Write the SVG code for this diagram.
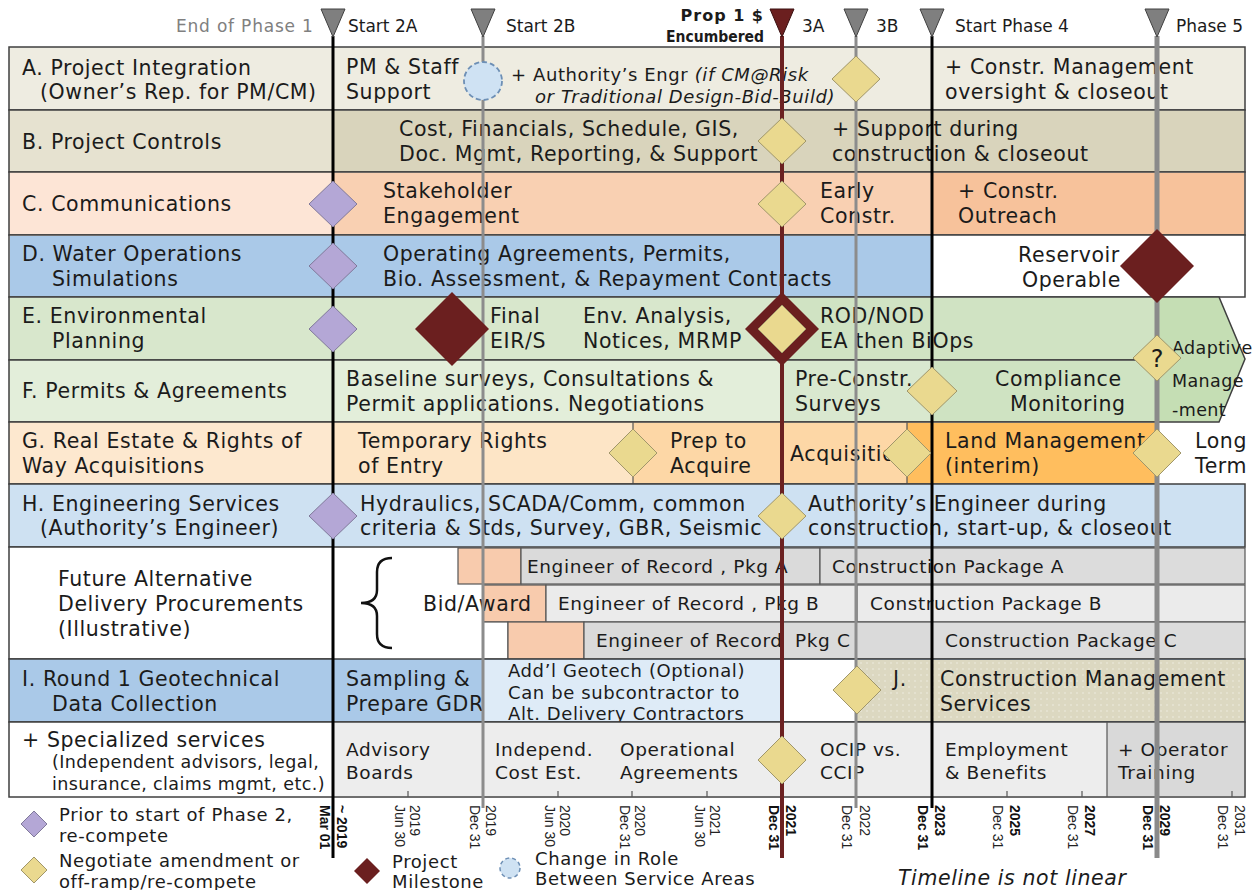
<svg xmlns="http://www.w3.org/2000/svg" width="1253" height="890" viewBox="0 0 1253 890">
<style>
text{font-family:"DejaVu Sans",Verdana,sans-serif;fill:#1b1b1b}
.t{font-size:20.5px;letter-spacing:0.6px}
.s{font-size:18.5px;letter-spacing:0.6px}
.xs{font-size:17.5px;letter-spacing:0.4px}
.h{font-size:17px}
.lg{font-size:18px;letter-spacing:0.6px}
.hb{font-size:16px;font-weight:bold}
.it{font-style:italic}
.ax{font-family:"Liberation Sans",Arial,sans-serif;font-size:14px;fill:#222;letter-spacing:0}
.axb{font-family:"Liberation Sans",Arial,sans-serif;font-size:14px;font-weight:bold;fill:#111;letter-spacing:0}
.fr{stroke:#3f3f3f;stroke-width:1.5}
.sep{stroke:#555;stroke-width:1.2}
.box{stroke:#555;stroke-width:1.2}
.pd{fill:#b4a7d6;stroke:#80799a;stroke-width:1}
.yd{fill:#ead98f;stroke:#a0966a;stroke-width:1}
.md{fill:#6b1f1f}
</style>
<defs>
<pattern id="dots" width="6" height="6" patternUnits="userSpaceOnUse">
<rect width="6" height="6" fill="#dcd8c1"/>
<circle cx="3" cy="3" r="0.8" fill="#f0eee2"/>
</pattern>
</defs>

<!-- Rows -->
<g id="rowA">
<rect class="fr" x="9" y="47" width="1236" height="63" fill="#eeece1"/>
<text class="t" x="22" y="75">A. Project Integration</text>
<text class="t" x="40" y="99">(Owner’s Rep. for PM/CM)</text>
<text class="t" x="346" y="74">PM &amp; Staff</text>
<text class="t" x="346" y="99">Support</text>
<text class="lg" x="511" y="81">+ Authority’s Engr <tspan class="it">(if CM@Risk</tspan></text>
<text class="lg it" x="535" y="103">or Traditional Design-Bid-Build)</text>
<text class="t" x="945" y="74">+ Constr. Management</text>
<text class="t" x="945" y="99">oversight &amp; closeout</text>
</g>

<g id="rowB">
<rect class="fr" x="9" y="110" width="1236" height="62" fill="#e6e2d0"/>
<rect x="333" y="111" width="911" height="60" fill="#d9d4bc"/>
<text class="t" x="22" y="149">B. Project Controls</text>
<text class="t" x="399" y="136">Cost, Financials, Schedule, GIS,</text>
<text class="t" x="399" y="161">Doc. Mgmt, Reporting, &amp; Support</text>
<text class="t" x="832" y="136">+ Support during</text>
<text class="t" x="832" y="161">construction &amp; closeout</text>
</g>

<g id="rowC">
<rect class="fr" x="9" y="172" width="1236" height="63" fill="#fde5d6"/>
<rect x="333" y="173" width="599" height="61" fill="#f9d0b2"/>
<rect x="932" y="173" width="312" height="61" fill="#f7c29b"/>
<text class="t" x="22" y="211">C. Communications</text>
<text class="t" x="383" y="198">Stakeholder</text>
<text class="t" x="383" y="223">Engagement</text>
<text class="t" x="820" y="198">Early</text>
<text class="t" x="820" y="223">Constr.</text>
<text class="t" x="958" y="198">+ Constr.</text>
<text class="t" x="958" y="223">Outreach</text>
</g>

<g id="rowD">
<rect class="fr" x="9" y="235" width="1236" height="62" fill="#ffffff"/>
<rect x="10" y="236" width="922" height="60" fill="#aac9e8"/>
<text class="t" x="22" y="261">D. Water Operations</text>
<text class="t" x="52" y="286">Simulations</text>
<text class="t" x="383" y="261">Operating Agreements, Permits,</text>
<text class="t" x="383" y="286">Bio. Assessment, &amp; Repayment Contracts</text>
<text class="t" x="1018" y="262">Reservoir</text>
<text class="t" x="1022" y="287">Operable</text>
</g>

<g id="rowE">
<rect class="fr" x="9" y="297" width="1148" height="63" fill="#d8e7cc"/>
<rect x="782" y="298" width="375" height="61" fill="#d0e3c3"/>
<text class="t" x="22" y="323">E. Environmental</text>
<text class="t" x="52" y="348">Planning</text>
<text class="t" x="490" y="323">Final</text>
<text class="t" x="490" y="348">EIR/S</text>
<text class="t" x="583" y="323">Env. Analysis,</text>
<text class="t" x="583" y="348">Notices, MRMP</text>
<text class="t" x="820" y="323">ROD/NOD</text>
<text class="t" x="820" y="348">EA then BiOps</text>
</g>

<g id="rowF">
<rect class="fr" x="9" y="360" width="1148" height="62" fill="#e3eeda"/>
<rect x="782" y="361" width="150" height="60" fill="#d9e8cf"/>
<rect x="932" y="361" width="225" height="60" fill="#cfe3c2"/>
<text class="t" x="22" y="398">F. Permits &amp; Agreements</text>
<text class="t" x="346" y="386">Baseline surveys, Consultations &amp;</text>
<text class="t" x="346" y="411">Permit applications. Negotiations</text>
<text class="t" x="795" y="386">Pre-Constr.</text>
<text class="t" x="795" y="411">Surveys</text>
<text class="t" x="995" y="386">Compliance</text>
<text class="t" x="1010" y="411">Monitoring</text>
</g>

<g id="adaptive">
<polygon class="fr" points="1157,297 1219,297 1245,359 1219,422 1157,422" fill="#c5deb4"/>
<text class="xs" x="1172" y="354">Adaptive</text>
<text class="xs" x="1172" y="387">Manage</text>
<text class="xs" x="1172" y="416">-ment</text>
</g>

<g id="rowG">
<rect class="fr" x="9" y="422" width="1148" height="62" fill="#fde8cf"/>
<rect x="333" y="423" width="300" height="60" fill="#fde5c6"/>
<rect x="633" y="423" width="274" height="60" fill="#fdd7a6"/>
<rect x="907" y="423" width="250" height="60" fill="#ffbe5e"/>
<line class="sep" x1="633" y1="422" x2="633" y2="484"/>
<line class="sep" x1="907" y1="422" x2="907" y2="484"/>
<text class="t" x="22" y="448">G. Real Estate &amp; Rights of</text>
<text class="t" x="22" y="473">Way Acquisitions</text>
<text class="t" x="358" y="448">Temporary Rights</text>
<text class="t" x="358" y="473">of Entry</text>
<text class="t" x="670" y="448">Prep to</text>
<text class="t" x="670" y="473">Acquire</text>
<text class="t" x="790" y="461">Acquisition</text>
<text class="t" x="945" y="448">Land Management</text>
<text class="t" x="945" y="473">(interim)</text>
<text class="t" x="1195" y="448">Long</text>
<text class="t" x="1195" y="473">Term</text>
</g>

<g id="rowH">
<rect class="fr" x="9" y="484" width="1236" height="63" fill="#cee1f2"/>
<text class="t" x="22" y="511">H. Engineering Services</text>
<text class="t" x="40" y="535">(Authority’s Engineer)</text>
<text class="t" x="360" y="511">Hydraulics, SCADA/Comm, common</text>
<text class="t" x="360" y="535">criteria &amp; Stds, Survey, GBR, Seismic</text>
<text class="t" x="808" y="511">Authority’s Engineer during</text>
<text class="t" x="808" y="535">construction, start-up, &amp; closeout</text>
</g>

<g id="future">
<rect class="fr" x="9" y="547" width="324" height="112" fill="#ffffff"/>
<text class="t" x="58" y="586">Future Alternative</text>
<text class="t" x="58" y="611">Delivery Procurements</text>
<text class="t" x="58" y="636">(Illustrative)</text>
<path d="M392,558 Q377,558 377,572 L377,590 Q377,603 361,603 Q377,603 377,616 L377,634 Q377,648 392,648" fill="none" stroke="#111" stroke-width="2.5"/>
<rect class="box" x="458" y="548" width="63" height="36" fill="#f8cbad"/>
<rect class="box" x="521" y="548" width="299" height="36" fill="#dadada"/>
<rect class="box" x="820" y="548" width="425" height="36" fill="#dcdcdc"/>
<rect class="box" x="483" y="585" width="63" height="37" fill="#f8cbad"/>
<rect class="box" x="546" y="585" width="311" height="37" fill="#ebebeb"/>
<rect class="box" x="857" y="585" width="388" height="37" fill="#ebebeb"/>
<rect class="box" x="483" y="622" width="25" height="37" fill="#ffffff"/>
<rect class="box" x="508" y="622" width="76" height="37" fill="#f8cbad"/>
<rect class="box" x="584" y="622" width="348" height="37" fill="#dadada"/>
<rect class="box" x="932" y="622" width="313" height="37" fill="#dcdcdc"/>
<text class="t" x="423" y="611">Bid/Award</text>
<text class="s" x="527" y="573">Engineer of Record , Pkg A</text>
<text class="s" x="832" y="573">Construction Package A</text>
<text class="s" x="558" y="610">Engineer of Record , Pkg B</text>
<text class="s" x="870" y="610">Construction Package B</text>
<text class="s" x="596" y="647">Engineer of Record</text>
<text class="s" x="795" y="647">Pkg C</text>
<text class="s" x="945" y="647">Construction Package C</text>
</g>

<g id="rowI">
<rect class="fr" x="9" y="659" width="1236" height="63" fill="#aac9e8"/>
<rect x="483" y="660" width="299" height="61" fill="#deebf7"/>
<rect x="782" y="660" width="75" height="61" fill="#ffffff"/>
<rect x="857" y="660" width="387" height="61" fill="url(#dots)"/>
<text class="t" x="22" y="686">I. Round 1 Geotechnical</text>
<text class="t" x="52" y="711">Data Collection</text>
<text class="t" x="346" y="686">Sampling &amp;</text>
<text class="t" x="346" y="711">Prepare GDR</text>
<text class="lg" x="508" y="677">Add’l Geotech (Optional)</text>
<text class="lg" x="508" y="699">Can be subcontractor to</text>
<text class="lg" x="508" y="720">Alt. Delivery Contractors</text>
<text class="t" x="893" y="686">J.</text>
<text class="t" x="940" y="686">Construction Management</text>
<text class="t" x="940" y="711">Services</text>
</g>

<g id="rowS">
<rect class="fr" x="9" y="722" width="1236" height="75" fill="#ffffff"/>
<rect x="333" y="723" width="774" height="73" fill="#ededed"/>
<rect x="1107" y="723" width="137" height="73" fill="#d9d9d9"/>
<line class="sep" x1="1107" y1="722" x2="1107" y2="797"/>
<text class="t" x="22" y="747">+ Specialized services</text>
<text class="xs" x="52" y="768">(Independent advisors, legal,</text>
<text class="xs" x="52" y="790">insurance, claims mgmt, etc.)</text>
<text class="s" x="346" y="756">Advisory</text>
<text class="s" x="346" y="779">Boards</text>
<text class="s" x="495" y="756">Independ.</text>
<text class="s" x="495" y="779">Cost Est.</text>
<text class="s" x="620" y="756">Operational</text>
<text class="s" x="620" y="779">Agreements</text>
<text class="s" x="820" y="756">OCIP vs.</text>
<text class="s" x="820" y="779">CCIP</text>
<text class="s" x="945" y="756">Employment</text>
<text class="s" x="945" y="779">&amp; Benefits</text>
<text class="s" x="1118" y="756">+ Operator</text>
<text class="s" x="1118" y="779">Training</text>
</g>

<!-- Phase lines (connectors) -->
<g id="phase-lines">
<line x1="333" y1="36" x2="333" y2="858" stroke="#000" stroke-width="3"/>
<line x1="483" y1="36" x2="483" y2="808" stroke="#8c8c8c" stroke-width="3"/>
<line x1="782" y1="36" x2="782" y2="858" stroke="#6b2121" stroke-width="4"/>
<line x1="856" y1="36" x2="856" y2="808" stroke="#8c8c8c" stroke-width="3"/>
<line x1="932" y1="36" x2="932" y2="808" stroke="#000" stroke-width="3"/>
<line x1="1157" y1="36" x2="1157" y2="858" stroke="#8a8a8a" stroke-width="5"/>
<g stroke="#555" stroke-width="1.2">
<line x1="408" y1="791" x2="408" y2="797"/>
<line x1="558" y1="791" x2="558" y2="797"/>
<line x1="632" y1="791" x2="632" y2="797"/>
<line x1="707" y1="791" x2="707" y2="797"/>
<line x1="1007" y1="791" x2="1007" y2="797"/>
<line x1="1082" y1="791" x2="1082" y2="797"/>
<line x1="1232" y1="791" x2="1232" y2="797"/>
</g>
</g>

<g id="phase-markers">
<polygon points="321,9 345,9 333,37" fill="#7f7f7f" stroke="#404040" stroke-width="1"/>
<polygon points="471,9 495,9 483,37" fill="#7f7f7f" stroke="#404040" stroke-width="1"/>
<polygon points="770,9 794,9 782,37" fill="#6b1f1f" stroke="#3a1010" stroke-width="1"/>
<polygon points="844,9 868,9 856,37" fill="#7f7f7f" stroke="#404040" stroke-width="1"/>
<polygon points="920,9 944,9 932,37" fill="#7f7f7f" stroke="#404040" stroke-width="1"/>
<polygon points="1145,9 1169,9 1157,37" fill="#7f7f7f" stroke="#404040" stroke-width="1"/>
<text class="h" x="176" y="32" style="fill:#808080;letter-spacing:0.8px">End of Phase 1</text>
<text class="h" x="348" y="32">Start 2A</text>
<text class="h" x="506" y="32">Start 2B</text>
<text class="hb" x="764" y="21" text-anchor="end" style="letter-spacing:1px">Prop 1 $</text>
<text class="hb" x="764" y="42" text-anchor="end" style="font-family:'DejaVu Sans Condensed','DejaVu Sans',sans-serif;font-size:15.5px">Encumbered</text>
<text class="h" x="802" y="32">3A</text>
<text class="h" x="876" y="32">3B</text>
<text class="h" x="955" y="32">Start Phase 4</text>
<text class="h" x="1176" y="32">Phase 5</text>
</g>

<!-- Diamonds -->
<g id="diamonds">
<ellipse cx="483" cy="81" rx="19" ry="19" fill="#cfe2f3" stroke="#6d8fb5" stroke-width="1.8" stroke-dasharray="5,3"/>
<polygon class="pd" points="333,181 357,204 333,227 309,204"/>
<polygon class="pd" points="333,243 357,266 333,289 309,266"/>
<polygon class="pd" points="333,306 357,329 333,352 309,329"/>
<polygon class="pd" points="333,493 357,516 333,539 309,516"/>
<polygon class="yd" points="856,56 880,79 856,102 832,79"/>
<polygon class="yd" points="782,118 806,141 782,164 758,141"/>
<polygon class="yd" points="782,181 806,204 782,227 758,204"/>
<polygon class="yd" points="932,367 957,391 932,415 907,391"/>
<polygon class="yd" points="633,429 657,453 633,477 609,453"/>
<polygon class="yd" points="907,429 931,453 907,477 883,453"/>
<polygon class="yd" points="1157,429 1181,453 1157,477 1133,453"/>
<polygon class="yd" points="782,493 806,516 782,539 758,516"/>
<polygon class="yd" points="857,666 881,690 857,714 833,690"/>
<polygon class="yd" points="782,736 806,760 782,784 758,760"/>
<polygon class="md" points="452,292 489,329 452,366 415,329"/>
<polygon class="md" points="1157,229 1194,266 1157,303 1120,266"/>
<polygon class="md" points="782,292 819,329 782,366 745,329"/>
<polygon class="yd" points="782,305 806,329 782,353 758,329"/>
<polygon class="yd" points="1157,335 1181,358 1157,381 1133,358"/>
<text x="1157" y="367" text-anchor="middle" style="font-size:24px">?</text>
</g>

<g id="axis-labels">
<text class="axb" transform="translate(325,805) rotate(90)" dominant-baseline="central">Mar 01</text>
<text class="axb" transform="translate(342,805) rotate(90)" dominant-baseline="central">~ 2019</text>
<text class="ax" transform="translate(400,805) rotate(90)" dominant-baseline="central">Jun 30</text>
<text class="ax" transform="translate(415,805) rotate(90)" dominant-baseline="central">2019</text>
<text class="ax" transform="translate(475,805) rotate(90)" dominant-baseline="central">Dec 31</text>
<text class="ax" transform="translate(491,805) rotate(90)" dominant-baseline="central">2019</text>
<text class="ax" transform="translate(550,805) rotate(90)" dominant-baseline="central">Jun 30</text>
<text class="ax" transform="translate(565,805) rotate(90)" dominant-baseline="central">2020</text>
<text class="ax" transform="translate(625,805) rotate(90)" dominant-baseline="central">Dec 31</text>
<text class="ax" transform="translate(640,805) rotate(90)" dominant-baseline="central">2020</text>
<text class="ax" transform="translate(700,805) rotate(90)" dominant-baseline="central">Jun 30</text>
<text class="ax" transform="translate(715,805) rotate(90)" dominant-baseline="central">2021</text>
<text class="axb" transform="translate(774,805) rotate(90)" dominant-baseline="central">Dec 31</text>
<text class="axb" transform="translate(791,805) rotate(90)" dominant-baseline="central">2021</text>
<text class="ax" transform="translate(847,805) rotate(90)" dominant-baseline="central">Dec 31</text>
<text class="ax" transform="translate(865,805) rotate(90)" dominant-baseline="central">2022</text>
<text class="axb" transform="translate(923,805) rotate(90)" dominant-baseline="central">Dec 31</text>
<text class="axb" transform="translate(940,805) rotate(90)" dominant-baseline="central">2023</text>
<text class="ax" transform="translate(998,805) rotate(90)" dominant-baseline="central">Dec 31</text>
<text class="axb" transform="translate(1015,805) rotate(90)" dominant-baseline="central">2025</text>
<text class="ax" transform="translate(1073,805) rotate(90)" dominant-baseline="central">Dec 31</text>
<text class="axb" transform="translate(1090,805) rotate(90)" dominant-baseline="central">2027</text>
<text class="axb" transform="translate(1148,805) rotate(90)" dominant-baseline="central">Dec 31</text>
<text class="axb" transform="translate(1165,805) rotate(90)" dominant-baseline="central">2029</text>
<text class="ax" transform="translate(1223,805) rotate(90)" dominant-baseline="central">Dec 31</text>
<text class="ax" transform="translate(1240,805) rotate(90)" dominant-baseline="central">2031</text>
</g>

<g id="legend">
<polygon class="pd" points="34,811 47,824 34,837 21,824"/>
<text class="lg" x="59" y="821">Prior to start of Phase 2,</text>
<text class="lg" x="59" y="842">re-compete</text>
<polygon class="yd" points="34,857 47,870 34,883 21,870"/>
<text class="lg" x="59" y="867">Negotiate amendment or</text>
<text class="lg" x="59" y="888">off-ramp/re-compete</text>
<polygon class="md" points="367,858 380,871 367,884 354,871"/>
<text class="lg" x="392" y="868">Project</text>
<text class="lg" x="392" y="888">Milestone</text>
<circle cx="510" cy="868" r="10" fill="#cfe2f3" stroke="#6d8fb5" stroke-width="1.5" stroke-dasharray="4,3"/>
<text class="lg" x="535" y="865">Change in Role</text>
<text class="lg" x="535" y="885">Between Service Areas</text>
<text class="t it" x="898" y="885">Timeline is not linear</text>
</g>
</svg>
